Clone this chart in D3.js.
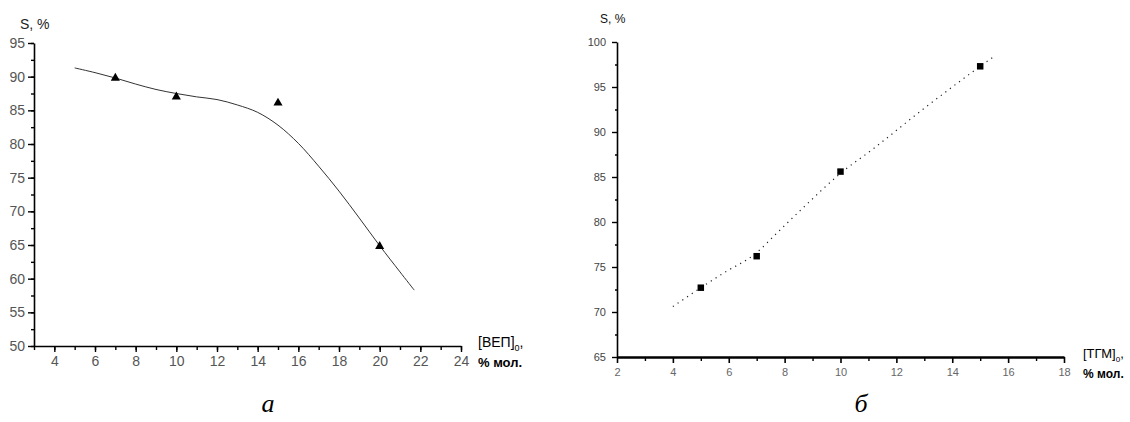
<!DOCTYPE html>
<html>
<head>
<meta charset="utf-8">
<script src="https://cdn.jsdelivr.net/npm/d3@7"></script>
<style>
  body { margin: 0; background: #fff; }
  svg { display: block; }
  .domain { stroke: #000; }
  .tick line { stroke: #000; }
</style>
</head>
<body>
<svg width="1130" height="422"></svg>
<script>
// --- chart a: [ВЕП]0 vs S
var aPointsX = [7, 10, 15, 20];
var aPointsY = [89.8, 87.0, 86.1, 64.8];
var aCurveX = [5, 6, 7, 8, 9, 10, 11, 12, 13, 14, 15, 16, 17, 18, 19, 20, 21, 21.7];
var aCurveY = [91.3, 90.6, 89.8, 88.9, 88.1, 87.5, 87.0, 86.6, 85.8, 84.7, 82.8, 80.1, 76.7, 73.0, 69.0, 64.9, 61.0, 58.3];
var aXTicks = [4, 6, 8, 10, 12, 14, 16, 18, 20, 22, 24];
var aYTicks = [50, 55, 60, 65, 70, 75, 80, 85, 90, 95];

// --- chart б: [ТГМ]0 vs S
var bPointsX = [5, 7, 10, 15];
var bPointsY = [72.7, 76.2, 85.6, 97.3];
var bLineX = [4, 5, 5.8, 7, 7.7, 8.7, 10, 11.2, 12.9, 14, 15, 15.5];
var bLineY = [70.6, 72.7, 74.3, 76.6, 78.7, 81.7, 85.4, 88.2, 92.4, 95.0, 97.3, 98.4];
var bXTicks = [2, 4, 6, 8, 10, 12, 14, 16, 18];
var bYTicks = [65, 70, 75, 80, 85, 90, 95, 100];

var svg = d3.select("svg");

// ================= chart a =================
var xa = d3.scaleLinear().domain([3, 24]).range([34, 461]);
var ya = d3.scaleLinear().domain([50, 95]).range([346, 43]);
var ga = svg.append("g");

ga.append("g").attr("transform", "translate(0,346)")
    .call(d3.axisBottom(xa).tickValues(d3.range(3, 25, 1)).tickSize(4).tickFormat(""))
    .call(function(g) { g.select(".domain").remove(); g.selectAll("line").attr("stroke-width", 1.4); });
ga.append("g").attr("transform", "translate(0,346)")
    .call(d3.axisBottom(xa).tickValues(aXTicks).tickSize(6).tickSizeOuter(0).tickPadding(4))
    .call(function(g) {
      g.select(".domain").attr("stroke-width", 1.6);
      g.selectAll("line").attr("stroke-width", 1.4);
      g.selectAll("text").attr("fill", "#555").style("font", "14px 'Liberation Sans', Arial, sans-serif");
    });
ga.append("g").attr("transform", "translate(34,0)")
    .call(d3.axisLeft(ya).tickValues(d3.range(50, 95.1, 2.5)).tickSize(3).tickFormat(""))
    .call(function(g) { g.select(".domain").remove(); g.selectAll("line").attr("stroke-width", 1.4); });
ga.append("g").attr("transform", "translate(34,0)")
    .call(d3.axisLeft(ya).tickValues(aYTicks).tickSize(6).tickSizeOuter(0).tickPadding(3))
    .call(function(g) {
      g.select(".domain").attr("stroke-width", 1.6);
      g.selectAll("line").attr("stroke-width", 1.4);
      g.selectAll("text").attr("fill", "#555").style("font", "14px 'Liberation Sans', Arial, sans-serif");
    });

ga.append("path")
    .datum(d3.zip(aCurveX, aCurveY))
    .attr("fill", "none").attr("stroke", "#333").attr("stroke-width", 1)
    .attr("d", d3.line().x(function(d) { return xa(d[0]); }).y(function(d) { return ya(d[1]); }).curve(d3.curveCatmullRom));

ga.selectAll(".tri").data(d3.zip(aPointsX, aPointsY)).enter().append("path")
    .attr("transform", function(d) { return "translate(" + xa(d[0]) + "," + ya(d[1]) + ")"; })
    .attr("d", d3.symbol().type(d3.symbolTriangle).size(36))
    .attr("fill", "#000");

ga.append("text").attr("x", 20).attr("y", 29)
    .style("font", "14px 'Liberation Sans', Arial, sans-serif").attr("fill", "#222").text("S, %");
var axa = ga.append("text").attr("x", 478).attr("y", 347)
    .style("font", "14px 'Liberation Sans', Arial, sans-serif").attr("fill", "#000");
axa.append("tspan").text("[ВЕП]");
axa.append("tspan").attr("dy", 4).style("font-size", "9px").text("0");
axa.append("tspan").attr("dy", -4).text(",");
ga.append("text").attr("x", 478).attr("y", 367)
    .style("font", "bold 13px 'Liberation Sans', Arial, sans-serif").attr("fill", "#000").text("% мол.");
ga.append("text").attr("x", 268).attr("y", 412).attr("text-anchor", "middle")
    .style("font", "italic 26px 'Liberation Serif', 'Times New Roman', serif").text("а");

// ================= chart б =================
var xb = d3.scaleLinear().domain([2, 18]).range([617, 1064]);
var yb = d3.scaleLinear().domain([65, 100]).range([357, 42]);
var gb = svg.append("g");

gb.append("g").attr("transform", "translate(0,357)")
    .call(d3.axisBottom(xb).tickValues(d3.range(3, 18, 2)).tickSize(4).tickFormat(""))
    .call(function(g) { g.select(".domain").remove(); g.selectAll("line").attr("stroke-width", 1.4); });
gb.append("g").attr("transform", "translate(0,357)")
    .call(d3.axisBottom(xb).tickValues(bXTicks).tickSize(6).tickSizeOuter(0).tickPadding(5))
    .call(function(g) {
      g.select(".domain").attr("stroke-width", 2.6);
      g.selectAll("line").attr("stroke-width", 1.6);
      g.selectAll("text").attr("fill", "#666").style("font", "11px 'Liberation Sans', Arial, sans-serif");
    });
gb.append("g").attr("transform", "translate(617,0)")
    .call(d3.axisLeft(yb).tickValues(d3.range(67.5, 100, 5)).tickSize(2).tickFormat(""))
    .call(function(g) { g.select(".domain").remove(); g.selectAll("line").attr("stroke-width", 1.4); });
gb.append("g").attr("transform", "translate(617,0)")
    .call(d3.axisLeft(yb).tickValues(bYTicks).tickSize(5).tickSizeOuter(0).tickPadding(6))
    .call(function(g) {
      g.select(".domain").attr("stroke-width", 1.6);
      g.selectAll("line").attr("stroke-width", 1.4);
      g.selectAll("text").attr("fill", "#444").style("font", "11px 'Liberation Sans', Arial, sans-serif");
    });

gb.append("path")
    .datum(d3.zip(bLineX, bLineY))
    .attr("fill", "none").attr("stroke", "#222").attr("stroke-width", 1.2)
    .attr("stroke-dasharray", "1.2,4.5")
    .attr("d", d3.line().x(function(d) { return xb(d[0]); }).y(function(d) { return yb(d[1]); }).curve(d3.curveMonotoneX));

gb.selectAll(".sq").data(d3.zip(bPointsX, bPointsY)).enter().append("path")
    .attr("transform", function(d) { return "translate(" + xb(d[0]) + "," + yb(d[1]) + ")"; })
    .attr("d", d3.symbol().type(d3.symbolSquare).size(42))
    .attr("fill", "#000");

gb.append("text").attr("x", 600).attr("y", 23)
    .style("font", "12px 'Liberation Sans', Arial, sans-serif").attr("fill", "#111").text("S, %");
var axb = gb.append("text").attr("x", 1083).attr("y", 358)
    .style("font", "13px 'Liberation Sans', Arial, sans-serif").attr("fill", "#000");
axb.append("tspan").text("[ТГМ]");
axb.append("tspan").attr("dy", 4).style("font-size", "8px").text("0");
axb.append("tspan").attr("dy", -4).text(",");
gb.append("text").attr("x", 1083).attr("y", 378)
    .style("font", "bold 12px 'Liberation Sans', Arial, sans-serif").attr("fill", "#000").text("% мол.");
gb.append("text").attr("x", 861).attr("y", 412).attr("text-anchor", "middle")
    .style("font", "italic 26px 'Liberation Serif', 'Times New Roman', serif").text("б");
</script>
</body>
</html>
